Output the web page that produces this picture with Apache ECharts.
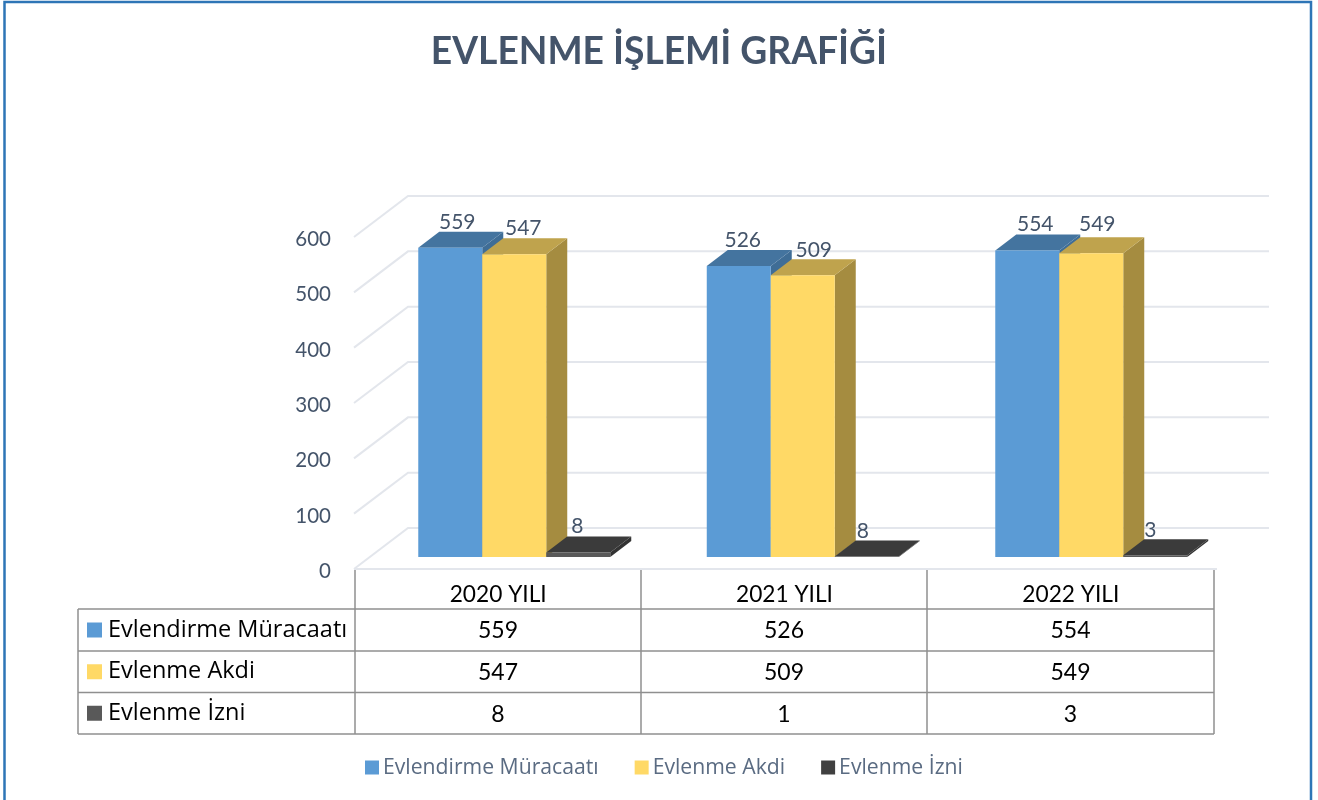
<!DOCTYPE html>
<html><head><meta charset="utf-8">
<style>html,body{margin:0;padding:0;background:#fff}#c{width:1318px;height:800px}</style>
<script src="https://cdn.jsdelivr.net/npm/echarts@6/dist/echarts.min.js"></script>
</head><body><div id="c"></div>
<script>
const titleText = 'EVLENME İŞLEMİ GRAFİĞİ';
const categories = ['2020 YILI', '2021 YILI', '2022 YILI'];
const seriesNames = ['Evlendirme Müracaatı', 'Evlenme Akdi', 'Evlenme İzni'];
const muracaat = [559, 526, 554];
const akdi = [547, 509, 549];
const izni = [8, 1, 3];
// the reference's data labels on the third series read 8, 8, 3 while its table says 8, 1, 3
const izniChartLabels = [8, 8, 3];
const gridValues = [0, 100, 200, 300, 400, 500, 600];

const FONT = 'Lato, "Noto Sans", sans-serif';
const WIDE = '"Open Sans", "Noto Sans", sans-serif';
const INK = '#44546A';
const GRIDC = '#E3E6EC';
const TABLEC = '#8F8F8F';
const palette = [
  {front:'#5B9BD5', top:'#44749F', side:'#3F6D96', swatch:'#5B9BD5', table:'#5B9BD5'},
  {front:'#FFD966', top:'#BFA34D', side:'#A58C40', swatch:'#FFD966', table:'#FFD966'},
  {front:'#595959', top:'#3B3B3B', side:'#333333', swatch:'#404040', table:'#595959'}
];
const DX = 21, DY = 16;         // bar depth
const FX = 16, FY = 12;         // bars sit this far behind the front plane
const WX = 53, WY = 41;         // wall depth
// [dx, dy] per label per series
const labelNudge = [
  [[7,-25],[4,-26],[8,-26]],
  [[9,-26],[11,-25],[6,-29]],
  [[-1,-26],[-4,-25],[-5,-25]]
];

function barSeries(si, values, labels) {
  const c = palette[si];
  return {
    type:'custom', name:seriesNames[si], xAxisIndex:0, yAxisIndex:0, z:3+si,
    itemStyle:{color:c.swatch},
    data:values.map((v,i)=>[i,v,labels[i]]),
    encode:{x:0,y:1},
    renderItem(params, api){
      const i = api.value(0), v = api.value(1);
      const p0 = api.coord([i,0]), p1 = api.coord([i,v]);
      const band = api.size([1,0])[0];
      const w = band*0.2218;
      const x0 = p0[0]+FX-1.5*w+si*w, x1 = x0+w;
      const yb = p0[1]-FY, yt = p1[1]-FY;
      const n = labelNudge[si][i];
      return {type:'group', children:[
        {type:'polygon', shape:{points:[[x1,yb],[x1+DX,yb-DY],[x1+DX,yt-DY],[x1,yt]]}, style:{fill:c.side}},
        {type:'polygon', shape:{points:[[x0,yt],[x1,yt],[x1+DX,yt-DY],[x0+DX,yt-DY]]}, style:{fill:c.top}},
        {type:'rect', shape:{x:x0,y:yt,width:w,height:yb-yt}, style:{fill:c.front}},
        {type:'text', x:(x0+x1)/2+n[0], y:yt+n[1], style:{text:String(api.value(2)), fill:INK, font:'21px '+FONT, textAlign:'center', textVerticalAlign:'middle'}}
      ]};
    }
  };
}

const tableCols = [355, 641, 927, 1214];
const tableRows = [609, 651, 692.5, 734];
const tableLeft = 78, tableTop = 569;
const tableValues = [muracaat, akdi, izni];
const g = [];
const lineStyle = {stroke:TABLEC, lineWidth:1.5};
tableCols.forEach(x=>g.push({type:'line', shape:{x1:x,y1:tableTop,x2:x,y2:734}, style:lineStyle}));
tableRows.forEach(y=>g.push({type:'line', shape:{x1:tableLeft,y1:y,x2:1214,y2:y}, style:lineStyle}));
g.push({type:'line', shape:{x1:tableLeft,y1:609,x2:tableLeft,y2:734}, style:lineStyle});
seriesNames.forEach((name,r)=>{
  const yc = (tableRows[r]+tableRows[r+1])/2;
  g.push({type:'rect', shape:{x:87,y:yc-7.5,width:15,height:15}, style:{fill:palette[r].table}});
  g.push({type:'text', x:108, y:yc, style:{text:name, fill:'#000', font:'23.5px '+WIDE, textVerticalAlign:'middle'}});
  tableValues[r].forEach((v,c)=>{
    g.push({type:'text', x:(tableCols[c]+tableCols[c+1])/2, y:yc+1, style:{text:String(v), fill:'#000', font:'23px '+FONT, textAlign:'center', textVerticalAlign:'middle'}});
  });
});
g.push({type:'rect', z:100, shape:{x:4.5,y:2,width:1306.5,height:810}, style:{fill:'none', stroke:'#2E75B6', lineWidth:2.5}});

const chart = echarts.init(document.getElementById('c'), null, {renderer:'canvas'});
chart.setOption({
  animation:false,
  backgroundColor:'#fff',
  title:{text:titleText, left:654, top:29, textAlign:'center', textStyle:{color:INK, fontFamily:FONT, fontWeight:'bold', fontSize:37.2}},
  legend:{
    data:seriesNames, left:360, top:752, itemWidth:14, itemHeight:14, itemGap:36, icon:'rect',
    textStyle:{color:'#5A6B82', fontFamily:WIDE, fontSize:21.2, padding:[0,0,0,-1]}
  },
  grid:[
    {left:354, top:237, width:865.5, height:332, containLabel:false},
    {left:355, top:569, width:859, height:1}
  ],
  xAxis:[
    {gridIndex:0, type:'category', data:categories, axisLine:{show:false}, axisTick:{show:false}, axisLabel:{show:false}},
    {gridIndex:1, type:'category', data:categories, position:'bottom', axisLine:{show:false}, axisTick:{show:false},
     axisLabel:{color:'#000', fontFamily:FONT, fontSize:22.7, margin:13}}
  ],
  yAxis:[
    {gridIndex:0, type:'value', min:0, max:600, interval:100, axisLine:{show:false}, axisTick:{show:false}, splitLine:{show:false},
     axisLabel:{color:INK, fontFamily:FONT, fontSize:20.5, margin:23, verticalAlign:'top', padding:[-8,0,0,0]}},
    {gridIndex:1, type:'value', show:false}
  ],
  graphic:{elements:g},
  series:[
    {
      type:'custom', name:'grid', xAxisIndex:0, yAxisIndex:0, z:1, silent:true,
      data:gridValues.map(v=>[0,v]), encode:{x:0,y:1},
      renderItem(params, api){
        const y = api.coord([0,api.value(1)])[1];
        const cs = params.coordSys;
        const first = api.value(1)===0;
        const kids = [{type:'polyline', shape:{points:[[cs.x,y],[cs.x+WX+1,y-WY],[1269,y-WY]]}, style:{fill:'none', stroke:GRIDC, lineWidth:2}}];
        if(first) kids.push({type:'line', shape:{x1:cs.x,y1:y,x2:1217,y2:y}, style:{stroke:GRIDC, lineWidth:2}});
        return {type:'group', children:kids};
      }
    },
    barSeries(0, muracaat, muracaat),
    barSeries(1, akdi, akdi),
    barSeries(2, izni, izniChartLabels)
  ]
});
</script></body></html>
